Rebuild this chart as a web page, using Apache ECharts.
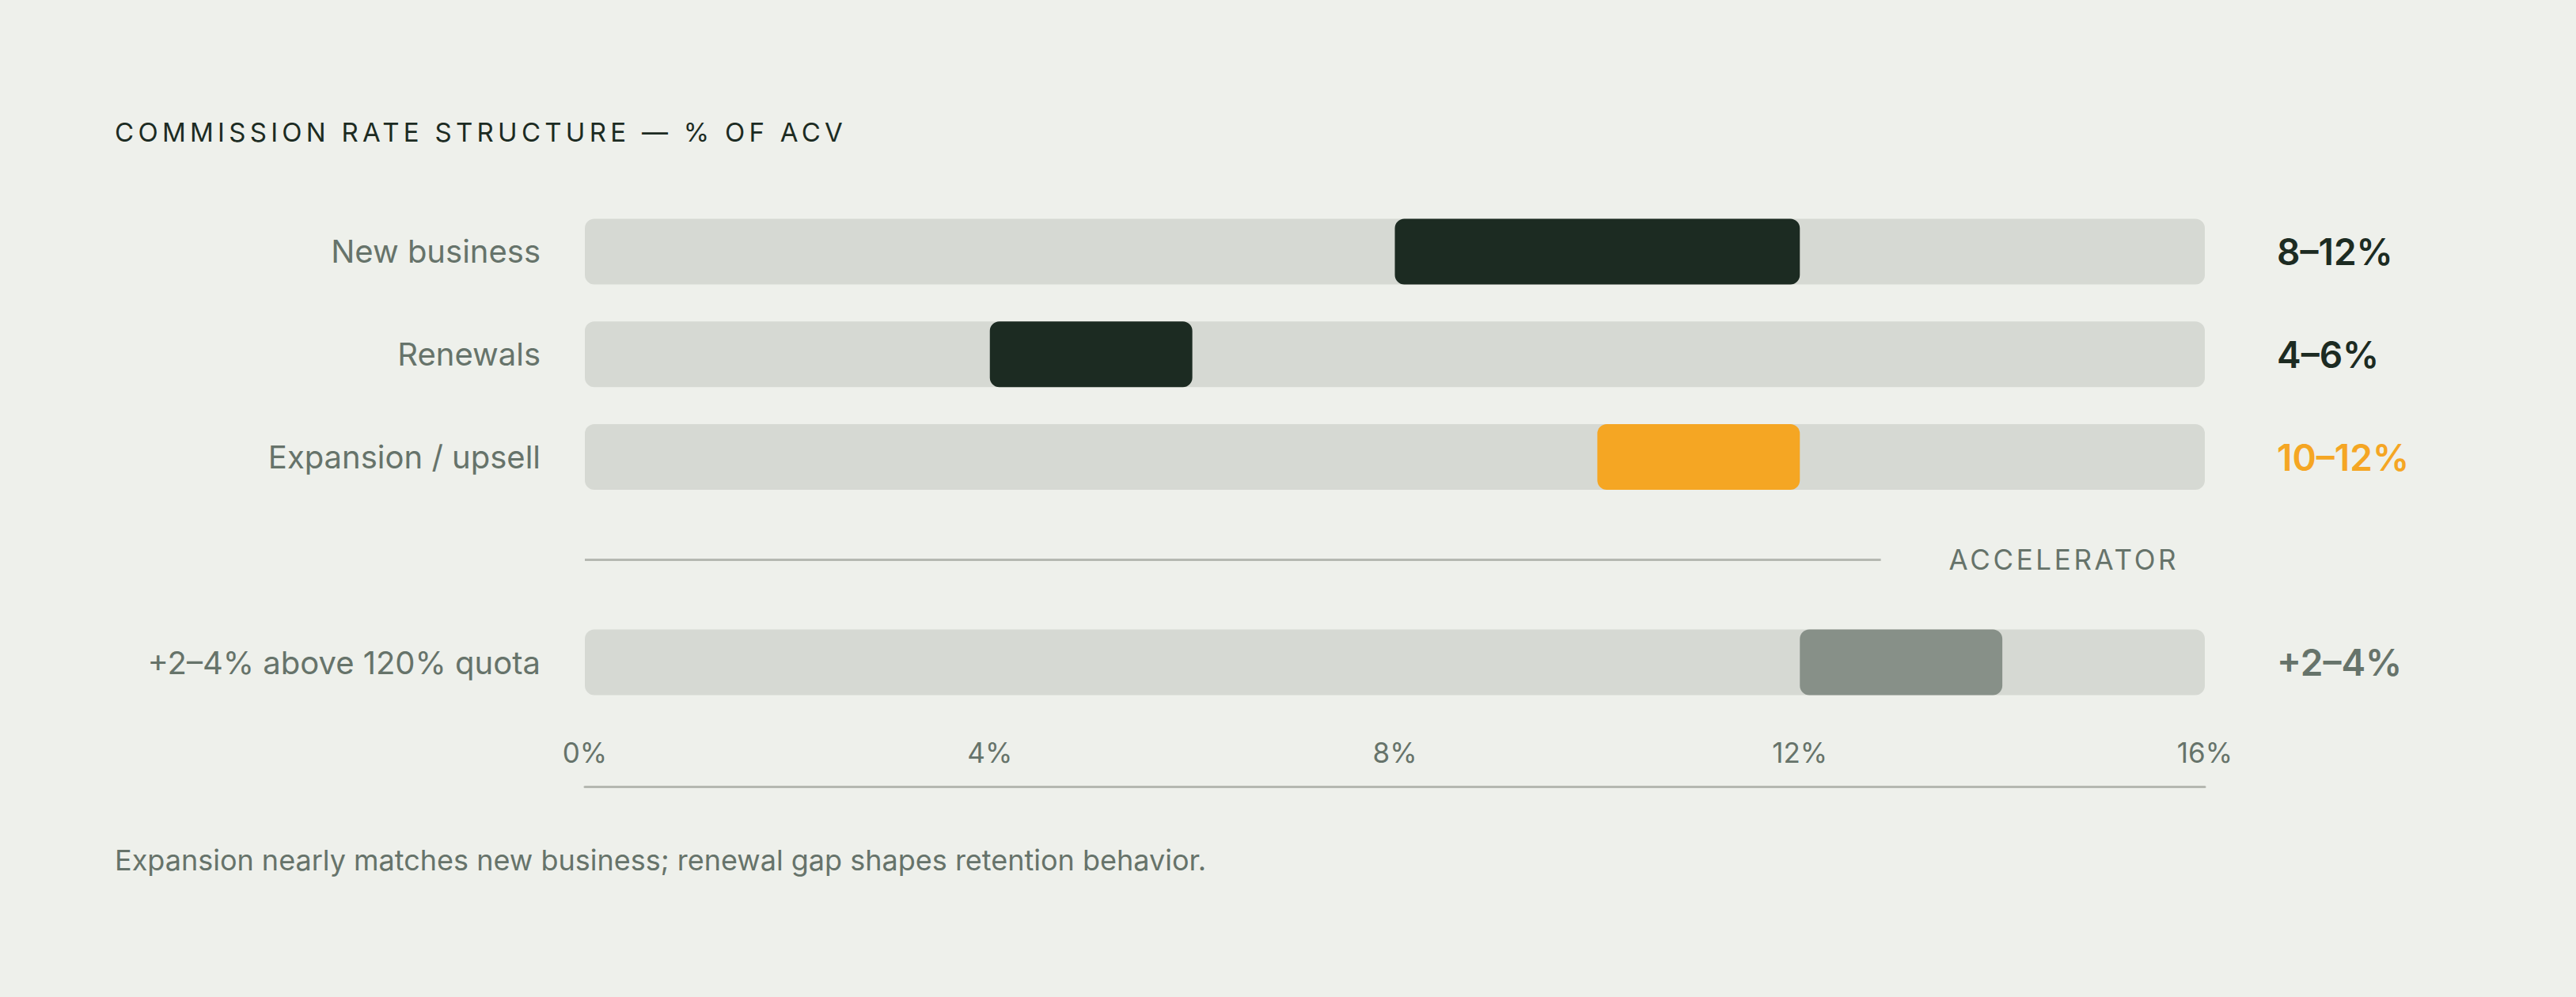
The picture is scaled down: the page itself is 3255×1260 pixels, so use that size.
<!DOCTYPE html>
<html>
<head>
<meta charset="utf-8">
<script src="https://cdn.jsdelivr.net/npm/echarts@6/dist/echarts.min.js"></script>
<style>
  html, body { margin: 0; padding: 0; background: #eef0eb; }
  #c { width: 3255px; height: 1260px; }
</style>
</head>
<body>
<div id="c"></div>
<script>
// ---- data ----
const categories = ['New business', 'Renewals', 'Expansion / upsell', '+2–4% above 120% quota'];
const lowValues = [8, 4, 10, 12];
const highValues = [12, 6, 12, 14];
const rangeLabels = ['8–12%', '4–6%', '10–12%', '+2–4%'];
const axisMin = 0, axisMax = 16, axisStep = 4;
const dividerText = 'ACCELERATOR';
const dividerEnd = 12.8;
const titleText = 'COMMISSION RATE STRUCTURE — % OF ACV';
const noteText = 'Expansion nearly matches new business; renewal gap shapes retention behavior.';

// ---- styles ----
const barColors = ['#1c2b22', '#1c2b22', '#f5a623', '#879088'];
const valueColors = ['#1c2b22', '#1c2b22', '#f5a623', '#66736a'];
const FONT = 'Inter, "DejaVu Sans", sans-serif';
const GRAY = '#66736a';

// insert spacer row (divider) before the accelerator row
const GAP = 3;
function withGap(arr, filler) { const a = arr.slice(); a.splice(GAP, 0, filler); return a; }
const rowCats = withGap(categories, '');
const rowRight = withGap(rangeLabels, '');
const rowRightColors = withGap(valueColors, GRAY);
const baseData = withGap(lowValues, '-');
const spanData = withGap(lowValues.map((l, i) => ({ value: highValues[i] - l, itemStyle: { color: barColors[i] } })), '-');
const trackData = withGap(categories.map(() => axisMax), '-');

const chart = echarts.init(document.getElementById('c'), null, { renderer: 'svg' });
chart.setOption({
  backgroundColor: '#eef0eb',
  animation: false,
  grid: { left: 739, right: 469, top: 253, bottom: 358, containLabel: false },
  xAxis: {
    type: 'value', min: axisMin, max: axisMax, interval: axisStep,
    position: 'bottom', offset: 92,
    axisLine: { show: true, lineStyle: { color: '#b5b8b1', width: 3 } },
    axisTick: { show: false }, splitLine: { show: false },
    axisLabel: { inside: true, margin: 26, formatter: '{value}%', fontSize: 35, fontFamily: FONT, color: GRAY }
  },
  yAxis: [
    {
      type: 'category', data: rowCats, inverse: true, position: 'left',
      axisLine: { show: false }, axisTick: { show: false },
      axisLabel: { margin: 56, fontSize: 40, fontFamily: FONT, color: GRAY }
    },
    {
      type: 'category', data: rowRight, inverse: true, position: 'right',
      axisLine: { show: false }, axisTick: { show: false },
      axisLabel: { margin: 91, align: 'left', fontSize: 46, fontWeight: 600, fontFamily: FONT,
        color: (v, i) => rowRightColors[i] }
    }
  ],
  series: [
    {
      type: 'bar', data: trackData, barWidth: 83, barGap: '-100%', silent: true, z: 1,
      itemStyle: { color: '#d6d9d3', borderRadius: 12 }
    },
    {
      type: 'bar', stack: 'range', data: baseData, barWidth: 83, barGap: '-100%', silent: true, z: 2,
      itemStyle: { color: 'rgba(0,0,0,0)' }
    },
    {
      type: 'bar', stack: 'range', data: spanData, barWidth: 83, barGap: '-100%', silent: true, z: 3,
      itemStyle: { borderRadius: 12 },
      markLine: {
        silent: true, symbol: ['none', 'none'], animation: false,
        lineStyle: { color: '#b5b8b1', width: 3, type: 'solid' },
        label: { show: true, position: 'end', distance: 86, formatter: dividerText,
          fontSize: 35, fontFamily: FONT, color: GRAY },
        data: [[{ coord: [axisMin, GAP] }, { coord: [dividerEnd, GAP] }]]
      }
    }
  ],
  graphic: [
    { type: 'text', x: 145, y: 167, silent: true,
      style: { text: titleText, font: '33px ' + FONT, fill: '#1c2b22', verticalAlign: 'middle', align: 'left' } },
    { type: 'text', x: 145, y: 1087, silent: true,
      style: { text: noteText, font: '36px ' + FONT, fill: GRAY, verticalAlign: 'middle', align: 'left' } }
  ]
});

// letter spacing for tracked uppercase texts
const cvs = document.createElement('canvas').getContext('2d');
function spacingFor(text, font, target) {
  cvs.font = font;
  const w = cvs.measureText(text).width;
  return Math.max(0, (target - w) / (text.length - 1));
}
const spaced = {};
spaced[titleText] = spacingFor(titleText, '33px ' + FONT, 920);
spaced[dividerText] = spacingFor(dividerText, '35px ' + FONT, 287);
function applySpacing() {
  document.querySelectorAll('#c svg text').forEach(t => {
    const s = spaced[t.textContent];
    if (s !== undefined) t.setAttribute('letter-spacing', s.toFixed(2));
  });
}
chart.on('finished', applySpacing);
setTimeout(applySpacing, 50);
</script>
</body>
</html>
